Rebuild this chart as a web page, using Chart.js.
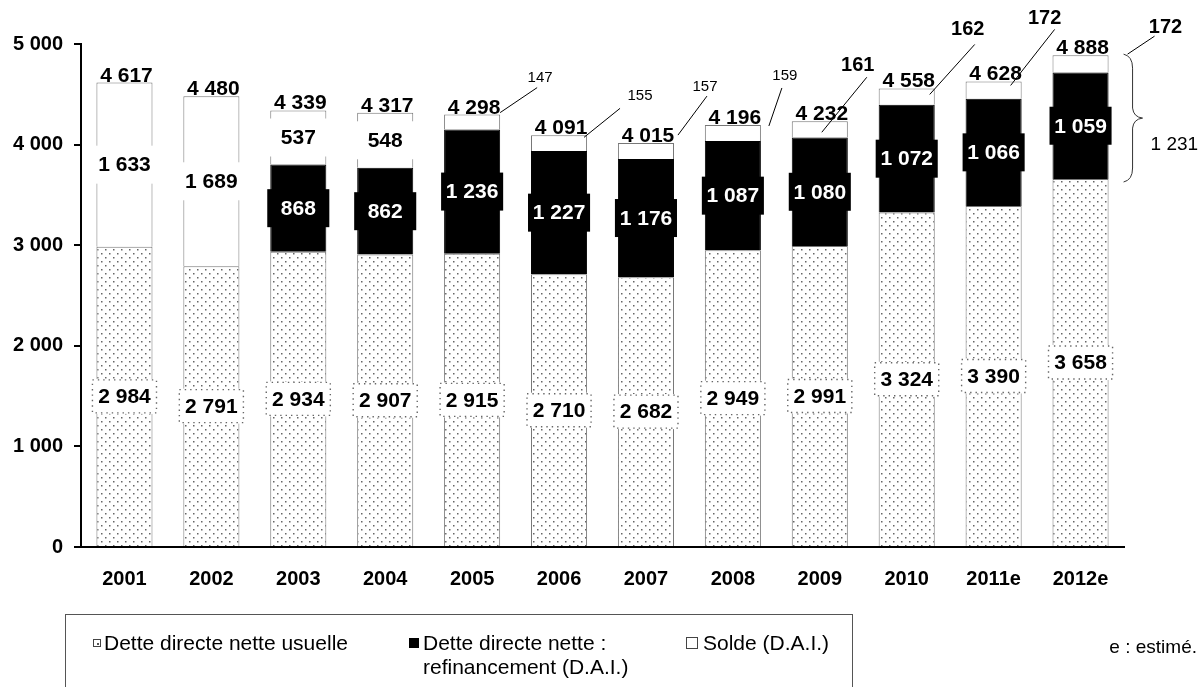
<!DOCTYPE html>
<html lang="fr">
<head>
<meta charset="utf-8">
<title>Dette directe nette</title>
<script src="https://cdn.jsdelivr.net/npm/chart.js@4.4.1/dist/chart.umd.min.js"></script>
<style>
  body { margin: 0; background: #fff; font-family: "Liberation Sans", Arial, sans-serif; }
  #wrap { position: relative; width: 1204px; height: 687px; overflow: hidden; }
  #legend { position: absolute; left: 65px; top: 614px; width: 788px; height: 90px;
            border: 1px solid #555; box-sizing: border-box; font-size: 21px; color: #000; }
  .item { position: absolute; top: 16px; line-height: 24px; }
  .mk { position: absolute; left: 0; box-sizing: border-box; border: 1px solid #444; background: #fff; }
  .mk.dot::after { content: ""; position: absolute; left: 2.5px; top: 2.5px; width: 2px; height: 2px; background: #555; }
  .mk.black { background: #000; border-color: #000; }
  #note { position: absolute; right: 7px; top: 636px; font-size: 19px; }
</style>
</head>
<body>
<div id="wrap">
  <canvas id="chart" width="1204" height="687"></canvas>
  <div id="legend">
    <div class="item" style="left:27px;padding-left:11px"><span class="mk dot" style="top:8px;width:8px;height:8px"></span>Dette directe nette usuelle</div>
    <div class="item" style="left:343px;padding-left:14px"><span class="mk black" style="top:7px;width:10px;height:10px"></span>Dette directe nette :<br>refinancement (D.A.I.)</div>
    <div class="item" style="left:620px;padding-left:17px"><span class="mk" style="top:6px;width:12px;height:12px"></span>Solde (D.A.I.)</div>
  </div>
  <div id="note">e : estimé.</div>
</div>
<script>
const years = ['2001', '2002', '2003', '2004', '2005', '2006', '2007', '2008', '2009', '2010', '2011e', '2012e'];
const usuelle = [2984, 2791, 2934, 2907, 2915, 2710, 2682, 2949, 2991, 3324, 3390, 3658];
const refinancement = [null, null, 868, 862, 1236, 1227, 1176, 1087, 1080, 1072, 1066, 1059];
const solde = [1633, 1689, 537, 548, 147, 155, 157, 159, 161, 162, 172, 172];
const totals = [4617, 4480, 4339, 4317, 4298, 4091, 4015, 4196, 4232, 4558, 4628, 4888];
const braceValue = 1231; // refinancement + solde 2012e

// leader lines for the thin "solde" slices: start offset from bar centre / slice top,
// line vector, then label offset from line end
const callouts = [
  { i: 4,  ax: 28, ay: -2, dx: 37, dy: -25, lx: 3,   ly: -10, bold: false },
  { i: 5,  ax: 25, ay: 2,  dx: 36, dy: -29, lx: 20,  ly: -12, bold: false },
  { i: 6,  ax: 32, ay: -8, dx: 29, dy: -39, lx: -2,  ly: -9,  bold: false },
  { i: 7,  ax: 36, ay: 1,  dx: 13, dy: -38, lx: 3,   ly: -12, bold: false },
  { i: 8,  ax: 2,  ay: 11, dx: 45, dy: -55, lx: -9,  ly: -12, bold: true },
  { i: 9,  ax: 23, ay: 6,  dx: 45, dy: -50, lx: -7,  ly: -15, bold: true },
  { i: 10, ax: 17, ay: 4,  dx: 44, dy: -56, lx: -10, ly: -11, bold: true },
  { i: 11, ax: 47, ay: -1, dx: 27, dy: -18, lx: 11,  ly: -9,  bold: true }
];

const FONT = '"Liberation Sans", Arial, sans-serif';
const fmt = v => String(Math.round(v)).replace(/\B(?=(\d{3})+(?!\d))/g, ' ');

function dotPattern() {
  const c = document.createElement('canvas');
  c.width = 8; c.height = 8;
  const g = c.getContext('2d');
  g.fillStyle = '#fff';
  g.fillRect(0, 0, 8, 8);
  g.fillStyle = '#666';
  g.fillRect(1, 1, 1.5, 1.5);
  g.fillRect(5, 5, 1.5, 1.5);
  return g.createPattern(c, 'repeat');
}

function boxText(ctx, text, x, y, w, h, fill, color, dotted) {
  ctx.save();
  ctx.fillStyle = fill;
  ctx.fillRect(x - w / 2, y - h / 2, w, h);
  if (dotted) {
    ctx.strokeStyle = '#666';
    ctx.lineWidth = 1.4;
    ctx.setLineDash([1.4, 4]);
    ctx.strokeRect(x - w / 2 + 1, y - h / 2 + 1, w - 2, h - 2);
  }
  ctx.fillStyle = color;
  ctx.font = 'bold 21px ' + FONT;
  ctx.textAlign = 'center';
  ctx.textBaseline = 'middle';
  ctx.fillText(text, x, y + 1);
  ctx.restore();
}

const labelsPlugin = {
  id: 'labels',
  afterDatasetsDraw(chart) {
    const ctx = chart.ctx;
    const y = chart.scales.y;
    const mU = chart.getDatasetMeta(0).data;
    const mR = chart.getDatasetMeta(1).data;
    const mS = chart.getDatasetMeta(2).data;

    years.forEach((_, i) => {
      const bu = mU[i];
      const w = bu.width;
      // usual debt
      boxText(ctx, fmt(usuelle[i]), bu.x, (bu.y + bu.base) / 2, w + 10, 35, '#fff', '#000', true);
      // refinancing
      if (refinancement[i] != null) {
        const br = mR[i];
        boxText(ctx, fmt(refinancement[i]), br.x, (br.y + br.base) / 2, w + 6, 38, '#000', '#fff', false);
      }
      // balance, written inside only when the slice is tall enough
      const bs = mS[i];
      if (i < 4) {
        boxText(ctx, fmt(solde[i]), bs.x, (bs.y + bs.base) / 2, w + 4, 38, '#fff', '#000', false);
      }
      // total above the bar
      ctx.save();
      ctx.font = 'bold 21px ' + FONT;
      ctx.fillStyle = '#000';
      ctx.textAlign = 'center';
      ctx.textBaseline = 'alphabetic';
      ctx.fillText(fmt(totals[i]), bs.x + 2, bs.y - 1);
      ctx.restore();
    });

    // leader lines
    ctx.save();
    ctx.strokeStyle = '#000';
    ctx.lineWidth = 1;
    ctx.fillStyle = '#000';
    ctx.textAlign = 'center';
    ctx.textBaseline = 'middle';
    callouts.forEach(c => {
      const bs = mS[c.i];
      const x0 = bs.x + c.ax, y0 = bs.y + c.ay;
      const x1 = x0 + c.dx, y1 = y0 + c.dy;
      ctx.beginPath();
      ctx.moveTo(x0, y0);
      ctx.lineTo(x1, y1);
      ctx.stroke();
      ctx.font = (c.bold ? 'bold 20px ' : '15px ') + FONT;
      ctx.fillText(fmt(solde[c.i]), x1 + c.lx, y1 + c.ly);
    });

    // brace spanning refinancing + balance of the last bar
    const last = years.length - 1;
    const bl = mS[last];
    const top = y.getPixelForValue(usuelle[last] + refinancement[last] + solde[last]) - 1;
    const bot = y.getPixelForValue(usuelle[last]) + 3;
    const mid = (top + bot) / 2;
    const bx = bl.x + bl.width / 2 + 15;
    ctx.strokeStyle = '#333';
    ctx.beginPath();
    ctx.moveTo(bx, top);
    ctx.quadraticCurveTo(bx + 9, top + 2, bx + 9, top + 14);
    ctx.lineTo(bx + 9, mid - 10);
    ctx.quadraticCurveTo(bx + 10, mid - 1, bx + 19, mid);
    ctx.quadraticCurveTo(bx + 10, mid + 1, bx + 9, mid + 10);
    ctx.lineTo(bx + 9, bot - 14);
    ctx.quadraticCurveTo(bx + 9, bot - 2, bx, bot);
    ctx.stroke();
    ctx.font = '19px ' + FONT;
    ctx.textAlign = 'left';
    ctx.fillText(fmt(braceValue), bx + 27, mid + 27);
    ctx.restore();
  }
};

const ctx = document.getElementById('chart').getContext('2d');
const dots = dotPattern();

new Chart(ctx, {
  type: 'bar',
  data: {
    labels: years,
    datasets: [
      { label: 'Dette directe nette usuelle', data: usuelle, backgroundColor: dots,
        borderColor: '#777', borderWidth: 1 },
      { label: 'Dette directe nette : refinancement (D.A.I.)', data: refinancement,
        backgroundColor: '#000', borderColor: '#000', borderWidth: 1 },
      { label: 'Solde (D.A.I.)', data: solde, backgroundColor: '#fff',
        borderColor: '#777', borderWidth: 1 }
    ]
  },
  options: {
    responsive: false,
    animation: false,
    layout: { padding: { top: 44, right: 80, left: 0, bottom: 0 } },
    datasets: { bar: { barPercentage: 0.645, categoryPercentage: 1 } },
    plugins: { legend: { display: false }, tooltip: { enabled: false } },
    scales: {
      x: {
        stacked: true,
        afterFit: s => { s.height = 140; },
        grid: { display: false, drawTicks: false },
        border: { display: true, color: '#000', width: 2 },
        ticks: { color: '#000', padding: 20, font: { family: FONT, size: 20, weight: 'bold' } }
      },
      y: {
        stacked: true,
        min: 0,
        max: 5000,
        afterFit: s => { s.width = 81; },
        grid: { drawOnChartArea: false, drawTicks: true, tickLength: 7, color: '#000', lineWidth: 2 },
        border: { display: true, color: '#000', width: 2 },
        ticks: { stepSize: 1000, padding: 11, color: '#000',
                 font: { family: FONT, size: 20, weight: 'bold' }, callback: v => fmt(v) }
      }
    }
  },
  plugins: [labelsPlugin]
});
</script>
</body>
</html>
